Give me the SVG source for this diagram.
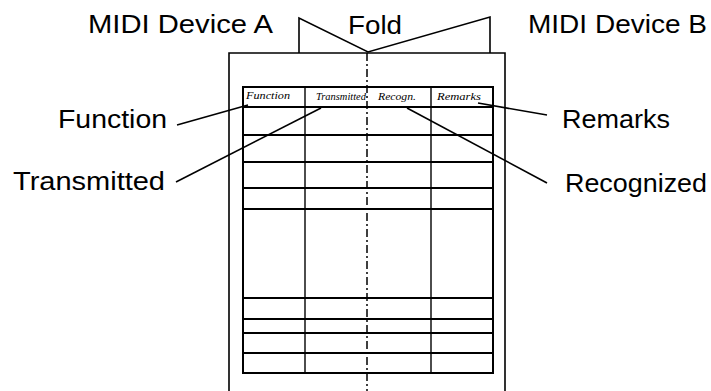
<svg xmlns="http://www.w3.org/2000/svg" width="711" height="391" viewBox="0 0 711 391">
<style>
.lbl{font-family:"Liberation Sans",Arial,sans-serif;font-size:25px;fill:#000}
.hw{font-family:"Liberation Serif","Times New Roman",serif;font-style:italic;font-size:10px;fill:#000}
.sheet{fill:none;stroke:#000;stroke-width:1.6}
.tbl{fill:none;stroke:#000;stroke-width:2}
.thin{fill:none;stroke:#000;stroke-width:1.4}
.fold{fill:none;stroke:#000;stroke-width:1.5;stroke-dasharray:8 3 2 3}
.lead{fill:none;stroke:#000;stroke-width:1.6}
</style>
<rect width="711" height="391" fill="#fff"/>
<g id="sheet">
<polyline class="sheet" points="229,391 229,53 505,53 505,391"/>
<polyline class="sheet" points="299,53 299,18 368,52 490,17 490,53"/>
<line class="fold" x1="367" y1="53" x2="367" y2="391"/>
</g>
<g id="table">
<rect class="tbl" x="243" y="87" width="250" height="286"/>
<line class="tbl" x1="243" y1="107" x2="493" y2="107"/>
<line class="tbl" x1="243" y1="135" x2="493" y2="135"/>
<line class="tbl" x1="243" y1="162" x2="493" y2="162"/>
<line class="tbl" x1="243" y1="188" x2="493" y2="188"/>
<line class="tbl" x1="243" y1="209" x2="493" y2="209"/>
<line class="tbl" x1="243" y1="298" x2="493" y2="298"/>
<line class="tbl" x1="243" y1="319" x2="493" y2="319"/>
<line class="tbl" x1="243" y1="333" x2="493" y2="333"/>
<line class="tbl" x1="243" y1="353" x2="493" y2="353"/>
<line class="thin" x1="305" y1="87" x2="305" y2="373"/>
<line class="thin" x1="431" y1="87" x2="431" y2="373"/>
<text class="hw" x="246" y="99" textLength="44" lengthAdjust="spacingAndGlyphs">Function</text>
<text class="hw" x="316" y="100" textLength="50" lengthAdjust="spacingAndGlyphs">Transmitted</text>
<text class="hw" x="378" y="100" textLength="38" lengthAdjust="spacingAndGlyphs">Recogn.</text>
<text class="hw" x="437" y="100" textLength="44" lengthAdjust="spacingAndGlyphs">Remarks</text>
</g>
<g id="labels">
<text class="lbl" x="88" y="33" textLength="185" lengthAdjust="spacingAndGlyphs">MIDI Device A</text>
<text class="lbl" x="348" y="34" textLength="54" lengthAdjust="spacingAndGlyphs">Fold</text>
<text class="lbl" x="528" y="33" textLength="179" lengthAdjust="spacingAndGlyphs">MIDI Device B</text>
<text class="lbl" x="58" y="128" textLength="109" lengthAdjust="spacingAndGlyphs">Function</text>
<text class="lbl" x="13" y="190" textLength="152" lengthAdjust="spacingAndGlyphs">Transmitted</text>
<text class="lbl" x="562" y="128" textLength="108" lengthAdjust="spacingAndGlyphs">Remarks</text>
<text class="lbl" x="565" y="192" textLength="142" lengthAdjust="spacingAndGlyphs">Recognized</text>
</g>
<g id="connectors">
<line class="lead" x1="177" y1="125" x2="248" y2="105"/>
<line class="lead" x1="176" y1="182" x2="321" y2="108"/>
<line class="lead" x1="547" y1="115" x2="478" y2="103"/>
<line class="lead" x1="547" y1="183" x2="407" y2="108"/>
</g>
</svg>
